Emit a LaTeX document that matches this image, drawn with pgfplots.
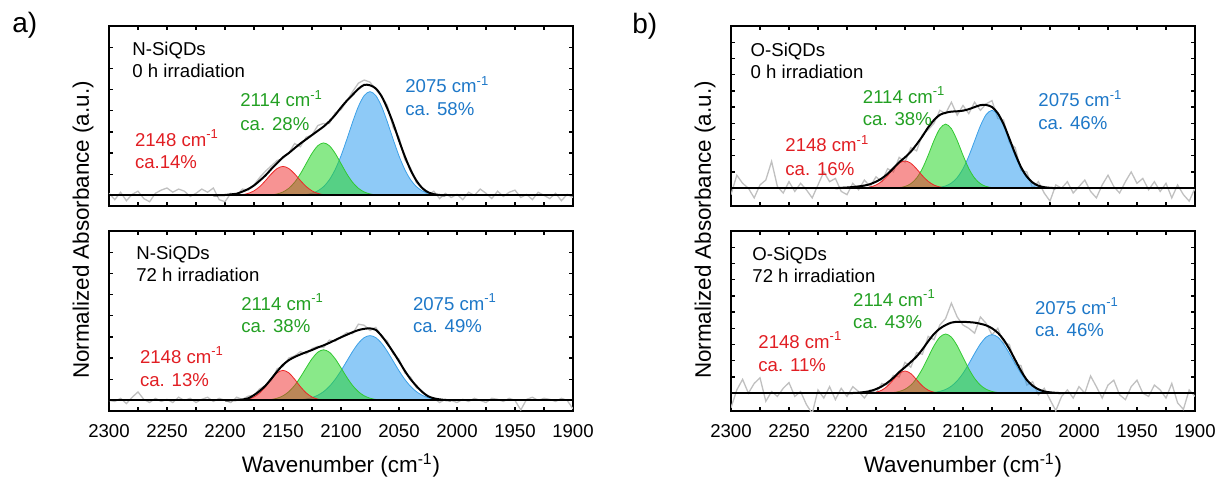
\documentclass[border=0pt]{standalone}
\usepackage{fontspec}
\setmainfont{Liberation Sans}
\usepackage{pgfplots}
\pgfplotsset{compat=1.18}
\definecolor{rfill}{RGB}{240,40,40}
\definecolor{gfill}{RGB}{40,215,40}
\definecolor{bfill}{RGB}{30,150,240}
\definecolor{rline}{RGB}{235,40,40}
\definecolor{gline}{RGB}{50,200,50}
\definecolor{bline}{RGB}{60,160,230}
\definecolor{rtext}{RGB}{225,30,35}
\definecolor{gtext}{RGB}{35,160,35}
\definecolor{btext}{RGB}{30,120,200}
\definecolor{noise}{RGB}{192,192,192}
\pgfplotsset{
  panel/.style={
    scale only axis, width=232pt, height=90pt,
    anchor=north west,
    xmin=1900, xmax=2300, x dir=reverse,
    xtick={1900,1950,...,2300}, minor x tick num=1,
    yticklabels={},
    tick align=inside,
    major tick length=2.2pt, minor tick length=2.2pt,
    axis line style={line width=0.65pt},
    every tick/.style={black, line width=0.65pt},
    /pgf/number format/1000 sep={},
    /pgf/number format/assume math mode=true,
    tick label style={font=\fontsize{9.3}{11}\selectfont},
    xticklabel style={anchor=base, yshift=-13pt},
    scaled x ticks=false,
  },
  pa/.style={panel, ymin=-0.05, ymax=0.8, ytick={0,0.1,0.2,0.3,0.4,0.5,0.6,0.7,0.8}},
  pb/.style={panel, ymin=-0.11, ymax=1.0, ytick={0,0.1,0.2,0.3,0.4,0.5,0.6,0.7,0.8,0.9,1.0}},
  notop/.style={xticklabels={}},
  noisy/.style={noise, line width=0.65pt},
  env/.style={black, line width=1pt, smooth},
  base/.style={black, line width=1pt},
  rc/.style={smooth, draw=rline, line width=0.4pt, fill=rfill, fill opacity=0.5},
  gc/.style={smooth, draw=gline, line width=0.4pt, fill=gfill, fill opacity=0.55},
  bc/.style={smooth, draw=bline, line width=0.4pt, fill=bfill, fill opacity=0.5},
}
\begin{document}
\begin{tikzpicture}
\path[use as bounding box] (0,0) rectangle (607.5pt,-238.5pt);

% ---------------- panel a, top: N-SiQDs 0 h
\begin{axis}[pa, notop, at={(54.5pt,-13pt)}]
\addplot[noisy] table {
x y
2300 0.010
2295 -0.020
2290 0.015
2285 -0.025
2280 0.005
2275 0.020
2270 -0.015
2265 -0.030
2260 0.010
2255 0.025
2250 0.035
2245 0.015
2240 0.030
2235 0.020
2230 -0.005
2225 0.010
2220 0.030
2215 0.015
2210 0.035
2205 -0.020
2200 -0.030
2195 0.010
2190 0.000
2185 0.030
2180 0.025
2175 0.050
2170 0.085
2165 0.115
2160 0.140
2155 0.165
2150 0.175
2145 0.200
2140 0.245
2135 0.230
2130 0.275
2125 0.285
2120 0.330
2115 0.340
2110 0.340
2105 0.390
2100 0.405
2095 0.445
2090 0.490
2085 0.530
2080 0.545
2075 0.535
2070 0.500
2065 0.470
2060 0.425
2055 0.320
2050 0.275
2045 0.170
2040 0.130
2035 0.060
2030 0.035
2025 0.000
2020 0.020
2015 -0.015
2010 0.010
2005 -0.010
2000 0.005
1995 -0.020
1990 0.015
1985 0.000
1980 0.030
1975 0.010
1970 -0.015
1965 0.020
1960 -0.005
1955 0.015
1950 0.025
1945 -0.010
1940 0.005
1935 -0.020
1930 0.015
1925 0.000
1920 -0.015
1915 0.010
1910 -0.025
1905 0.005
1900 -0.010
};
\addplot[bc] table {
x y
2145 0
2140 0.0007
2135 0.0019
2130 0.0046
2125 0.0103
2120 0.0215
2115 0.0415
2110 0.0740
2105 0.1222
2100 0.1868
2095 0.2643
2090 0.3462
2085 0.4199
2080 0.4714
2075 0.4900
2070 0.4714
2065 0.4199
2060 0.3462
2055 0.2643
2050 0.1868
2045 0.1222
2040 0.0740
2035 0.0415
2030 0.0215
2025 0.0103
2020 0.0046
2015 0.0019
2010 0.0007
2005 0
} \closedcycle;
\addplot[gc] table {
x y
2170 0
2165 0.0010
2160 0.0028
2155 0.0071
2150 0.0163
2145 0.0336
2140 0.0619
2135 0.1020
2130 0.1504
2125 0.1986
2120 0.2346
2115 0.2480
2110 0.2346
2105 0.1986
2100 0.1504
2095 0.1020
2090 0.0619
2085 0.0336
2080 0.0163
2075 0.0071
2070 0.0028
2065 0.0010
2060 0
} \closedcycle;
\addplot[rc] table {
x y
2205 0
2200 0.0001
2195 0.0003
2190 0.0012
2185 0.0037
2180 0.0096
2175 0.0216
2170 0.0419
2165 0.0704
2160 0.1019
2155 0.1272
2150 0.1370
2145 0.1272
2140 0.1019
2135 0.0704
2130 0.0419
2125 0.0216
2120 0.0096
2115 0.0037
2110 0.0012
2105 0.0003
2100 0.0001
2095 0
} \closedcycle;
\addplot[base] coordinates {(2300,0) (1900,0)};
\addplot[env] table {
x y
2210 0
2205 0.001
2200 0.002
2195 0.005
2190 0.008
2185 0.018
2180 0.030
2175 0.047
2170 0.070
2165 0.095
2160 0.125
2155 0.153
2150 0.180
2145 0.200
2140 0.223
2135 0.245
2130 0.265
2125 0.285
2120 0.305
2115 0.325
2110 0.350
2105 0.380
2100 0.415
2095 0.447
2090 0.475
2085 0.503
2080 0.522
2075 0.520
2070 0.505
2065 0.468
2060 0.410
2055 0.340
2050 0.260
2045 0.185
2040 0.120
2035 0.070
2030 0.035
2025 0.015
2020 0.006
2015 0.002
2010 0
};
\end{axis}

% ---------------- panel a, bottom: N-SiQDs 72 h
\begin{axis}[pa, at={(54.5pt,-115.5pt)}]
\addplot[noisy] table {
x y
2300 0.000
2295 -0.005
2290 0.010
2285 -0.015
2280 0.015
2275 0.040
2270 0.005
2265 -0.010
2260 0.010
2255 -0.005
2250 0.005
2245 -0.010
2240 0.015
2235 0.000
2230 0.010
2225 -0.010
2220 0.005
2215 0.015
2210 -0.005
2205 0.010
2200 0.000
2195 -0.010
2190 0.015
2185 0.005
2180 0.020
2175 0.025
2170 0.055
2165 0.070
2160 0.095
2155 0.150
2150 0.160
2145 0.200
2140 0.210
2135 0.230
2130 0.220
2125 0.245
2120 0.255
2115 0.250
2110 0.285
2105 0.280
2100 0.300
2095 0.320
2090 0.315
2085 0.360
2080 0.355
2075 0.330
2070 0.345
2065 0.300
2060 0.280
2055 0.220
2050 0.195
2045 0.130
2040 0.110
2035 0.060
2030 0.045
2025 0.015
2020 0.010
2015 -0.010
2010 0.005
2005 0.000
2000 -0.010
1995 0.005
1990 -0.005
1985 0.010
1980 0.000
1975 -0.010
1970 0.010
1965 0.005
1960 -0.005
1955 0.010
1950 0.000
1945 -0.045
1940 0.005
1935 0.015
1930 0.000
1925 0.010
1920 0.005
1915 -0.005
1910 0.010
1905 0.000
1900 -0.040
};
\addplot[bc] table {
x y
2150 0
2145 0.0007
2140 0.0016
2135 0.0034
2130 0.0070
2125 0.0134
2120 0.0244
2115 0.0414
2110 0.0662
2105 0.0994
2100 0.1401
2095 0.1856
2090 0.2310
2085 0.2700
2080 0.2966
2075 0.3060
2070 0.2966
2065 0.2700
2060 0.2310
2055 0.1856
2050 0.1401
2045 0.0994
2040 0.0662
2035 0.0414
2030 0.0244
2025 0.0134
2020 0.0070
2015 0.0034
2010 0.0016
2005 0.0007
2000 0
} \closedcycle;
\addplot[gc] table {
x y
2175 0
2170 0.0006
2165 0.0018
2160 0.0046
2155 0.0105
2150 0.0218
2145 0.0412
2140 0.0705
2135 0.1094
2130 0.1540
2125 0.1966
2120 0.2276
2115 0.2390
2110 0.2276
2105 0.1966
2100 0.1540
2095 0.1094
2090 0.0705
2085 0.0412
2080 0.0218
2075 0.0105
2070 0.0046
2065 0.0018
2060 0.0006
2055 0
} \closedcycle;
\addplot[rc] table {
x y
2195 0
2190 0.0005
2185 0.0020
2180 0.0062
2175 0.0162
2170 0.0354
2165 0.0650
2160 0.1003
2155 0.1302
2150 0.1420
2145 0.1302
2140 0.1003
2135 0.0650
2130 0.0354
2125 0.0162
2120 0.0062
2115 0.0020
2110 0.0005
2105 0
} \closedcycle;
\addplot[base] coordinates {(2300,0) (1900,0)};
\addplot[env] table {
x y
2200 0
2195 0.001
2190 0.002
2185 0.004
2180 0.010
2175 0.025
2170 0.045
2165 0.070
2160 0.103
2155 0.137
2150 0.168
2145 0.190
2140 0.205
2135 0.217
2130 0.228
2125 0.238
2120 0.250
2115 0.260
2110 0.272
2105 0.285
2100 0.298
2095 0.310
2090 0.322
2085 0.332
2080 0.338
2075 0.340
2070 0.333
2065 0.305
2060 0.268
2055 0.228
2050 0.185
2045 0.140
2040 0.100
2035 0.068
2030 0.040
2025 0.020
2020 0.010
2015 0.005
2010 0.002
2005 0
};
\end{axis}

% ---------------- panel b, top: O-SiQDs 0 h
\begin{axis}[pb, notop, at={(365.5pt,-13pt)}]
\addplot[noisy] table {
x y
2300 -0.040
2295 0.080
2290 0.030
2285 0.000
2280 -0.060
2275 0.020
2270 0.050
2265 0.165
2260 0.010
2255 -0.030
2250 0.040
2245 -0.020
2240 0.030
2235 -0.010
2230 -0.060
2225 0.020
2220 0.100
2215 0.040
2210 0.060
2205 -0.020
2200 -0.040
2195 0.030
2190 -0.010
2185 0.050
2180 0.010
2175 0.070
2170 0.040
2165 0.120
2160 0.100
2155 0.190
2150 0.160
2145 0.250
2140 0.230
2135 0.330
2130 0.360
2125 0.400
2120 0.480
2115 0.460
2110 0.530
2105 0.450
2100 0.510
2095 0.460
2090 0.530
2085 0.480
2080 0.520
2075 0.540
2070 0.430
2065 0.420
2060 0.280
2055 0.250
2050 0.110
2045 0.100
2040 0.000
2035 0.040
2030 -0.030
2025 -0.080
2020 0.020
2015 0.000
2010 0.040
2005 -0.030
2000 0.010
1995 0.050
1990 -0.020
1985 -0.060
1980 0.020
1975 0.080
1970 0.010
1965 -0.030
1960 0.040
1955 0.100
1950 0.030
1945 0.060
1940 -0.010
1935 0.040
1930 -0.020
1925 0.030
1920 -0.060
1915 0.020
1910 -0.040
1905 -0.080
1900 0.000
};
\addplot[bc] table {
x y
2135 0
2130 0.0006
2125 0.0019
2120 0.0053
2115 0.0137
2110 0.0315
2105 0.0649
2100 0.1197
2095 0.1973
2090 0.2911
2085 0.3843
2080 0.4541
2075 0.4800
2070 0.4541
2065 0.3843
2060 0.2911
2055 0.1973
2050 0.1197
2045 0.0649
2040 0.0315
2035 0.0137
2030 0.0053
2025 0.0019
2020 0.0006
2015 0
} \closedcycle;
\addplot[gc] table {
x y
2165 0
2160 0.0010
2155 0.0035
2150 0.0105
2145 0.0276
2140 0.0622
2135 0.1209
2130 0.2030
2125 0.2938
2120 0.3668
2115 0.3950
2110 0.3668
2105 0.2938
2100 0.2030
2095 0.1209
2090 0.0622
2085 0.0276
2080 0.0105
2075 0.0035
2070 0.0010
2065 0
} \closedcycle;
\addplot[rc] table {
x y
2195 0
2190 0.0006
2185 0.0024
2180 0.0074
2175 0.0192
2170 0.0419
2165 0.0769
2160 0.1187
2155 0.1540
2150 0.1680
2145 0.1540
2140 0.1187
2135 0.0769
2130 0.0419
2125 0.0192
2120 0.0074
2115 0.0024
2110 0.0006
2105 0
} \closedcycle;
\addplot[base] coordinates {(2300,0) (1900,0)};
\addplot[env] table {
x y
2210 0
2205 0.002
2200 0.004
2195 0.007
2190 0.011
2185 0.016
2180 0.025
2175 0.040
2170 0.060
2165 0.088
2160 0.123
2155 0.160
2150 0.190
2145 0.225
2140 0.270
2135 0.320
2130 0.375
2125 0.420
2120 0.452
2115 0.465
2110 0.472
2105 0.474
2100 0.478
2095 0.487
2090 0.500
2085 0.512
2080 0.513
2075 0.500
2070 0.462
2065 0.395
2060 0.305
2055 0.212
2050 0.130
2045 0.072
2040 0.035
2035 0.015
2030 0.006
2025 0.002
2020 0
};
\end{axis}

% ---------------- panel b, bottom: O-SiQDs 72 h
\begin{axis}[pb, at={(365.5pt,-115.5pt)}]
\addplot[noisy] table {
x y
2300 -0.090
2295 0.020
2290 0.085
2285 0.000
2280 0.060
2275 0.095
2270 -0.050
2265 0.010
2260 -0.020
2255 0.030
2250 0.065
2245 -0.020
2240 0.010
2235 -0.070
2230 -0.125
2225 0.020
2220 -0.030
2215 0.040
2210 -0.040
2205 0.030
2200 -0.020
2195 0.040
2190 0.010
2185 -0.030
2180 0.020
2175 0.000
2170 0.060
2165 0.050
2160 0.110
2155 0.100
2150 0.190
2145 0.160
2140 0.250
2135 0.240
2130 0.350
2125 0.330
2120 0.420
2115 0.460
2110 0.555
2105 0.470
2100 0.420
2095 0.400
2090 0.370
2085 0.470
2080 0.430
2075 0.360
2070 0.400
2065 0.310
2060 0.300
2055 0.180
2050 0.170
2045 0.050
2040 0.070
2035 -0.010
2030 0.030
2025 -0.040
2020 -0.108
2015 -0.020
2010 0.020
2005 -0.030
2000 0.040
1995 0.000
1990 0.106
1985 0.040
1980 -0.030
1975 0.050
1970 0.080
1965 -0.010
1960 -0.040
1955 0.040
1950 0.080
1945 0.000
1940 -0.020
1935 0.050
1930 0.020
1925 -0.030
1920 0.060
1915 -0.060
1910 -0.100
1905 0.020
1900 -0.020
};
\addplot[bc] table {
x y
2140 0
2135 0.0007
2130 0.0019
2125 0.0048
2120 0.0109
2115 0.0227
2110 0.0434
2105 0.0761
2100 0.1224
2095 0.1807
2090 0.2446
2085 0.3036
2080 0.3457
2075 0.3610
2070 0.3457
2065 0.3036
2060 0.2446
2055 0.1807
2050 0.1224
2045 0.0761
2040 0.0434
2035 0.0227
2030 0.0109
2025 0.0048
2020 0.0019
2015 0.0007
2010 0
} \closedcycle;
\addplot[gc] table {
x y
2170 0
2165 0.0014
2160 0.0041
2155 0.0104
2150 0.0240
2145 0.0494
2140 0.0910
2135 0.1501
2130 0.2214
2125 0.2923
2120 0.3453
2115 0.3650
2110 0.3453
2105 0.2923
2100 0.2214
2095 0.1501
2090 0.0910
2085 0.0494
2080 0.0240
2075 0.0104
2070 0.0041
2065 0.0014
2060 0
} \closedcycle;
\addplot[rc] table {
x y
2185 0
2180 0.0015
2175 0.0060
2170 0.0185
2165 0.0445
2160 0.0831
2155 0.1209
2150 0.1370
2145 0.1209
2140 0.0831
2135 0.0445
2130 0.0185
2125 0.0060
2120 0.0015
2115 0
} \closedcycle;
\addplot[base] coordinates {(2300,0) (1900,0)};
\addplot[env] table {
x y
2200 0
2195 0.001
2190 0.003
2185 0.007
2180 0.013
2175 0.025
2170 0.042
2165 0.065
2160 0.095
2155 0.130
2150 0.160
2145 0.192
2140 0.226
2135 0.270
2130 0.320
2125 0.365
2120 0.398
2115 0.420
2110 0.435
2105 0.440
2100 0.440
2095 0.438
2090 0.435
2085 0.428
2080 0.418
2075 0.400
2070 0.372
2065 0.330
2060 0.272
2055 0.205
2050 0.138
2045 0.082
2040 0.046
2035 0.024
2030 0.011
2025 0.005
2020 0.002
2015 0
};
\end{axis}

% ---------------- text (pixel coordinates of the reference)
\begin{scope}[x=0.5pt, y=-0.5pt]
\tikzset{lab/.style={anchor=base west, inner sep=0pt, font=\fontsize{9.3}{11}\selectfont}}
\node[anchor=base west, inner sep=0pt, font=\fontsize{14}{16}\selectfont] at (12,32) {a)};
\node[anchor=base west, inner sep=0pt, font=\fontsize{14}{16}\selectfont] at (632,33) {b)};
\node[rotate=90, font=\fontsize{11.2}{13}\selectfont] at (83,230) {Normalized Absorbance (a.u.)};
\node[rotate=90, font=\fontsize{11.2}{13}\selectfont] at (705,230) {Normalized Absorbance (a.u.)};
\node[font=\fontsize{11.2}{13}\selectfont] at (341,465) {Wavenumber (cm\textsuperscript{-1})};
\node[font=\fontsize{11.2}{13}\selectfont] at (963,465) {Wavenumber (cm\textsuperscript{-1})};
% panel a top
\node[lab] at (132,55) {N-SiQDs};
\node[lab] at (132,77.4) {0 h irradiation};
\node[lab, text=rtext] at (134.6,146) {2148 cm\textsuperscript{-1}};
\node[lab, text=rtext] at (134.6,168.4) {ca.14\%};
\node[lab, text=gtext] at (240,106.7) {2114 cm\textsuperscript{-1}};
\node[lab, text=gtext] at (240,130) {ca. 28\%};
\node[lab, text=btext] at (405,92.7) {2075 cm\textsuperscript{-1}};
\node[lab, text=btext] at (405,115) {ca. 58\%};
% panel a bottom
\node[lab] at (136,259.4) {N-SiQDs};
\node[lab] at (136,281.7) {72 h irradiation};
\node[lab, text=gtext] at (241,310) {2114 cm\textsuperscript{-1}};
\node[lab, text=gtext] at (241,332.7) {ca. 38\%};
\node[lab, text=rtext] at (139.6,363.4) {2148 cm\textsuperscript{-1}};
\node[lab, text=rtext] at (139.6,386) {ca. 13\%};
\node[lab, text=btext] at (412.6,310) {2075 cm\textsuperscript{-1}};
\node[lab, text=btext] at (412.6,332.7) {ca. 49\%};
% panel b top
\node[lab] at (750.3,56) {O-SiQDs};
\node[lab] at (750.3,78.4) {0 h irradiation};
\node[lab, text=rtext] at (785,151.7) {2148 cm\textsuperscript{-1}};
\node[lab, text=rtext] at (785,175) {ca. 16\%};
\node[lab, text=gtext] at (862.5,103.4) {2114 cm\textsuperscript{-1}};
\node[lab, text=gtext] at (862.5,125.7) {ca. 38\%};
\node[lab, text=btext] at (1038,106.7) {2075 cm\textsuperscript{-1}};
\node[lab, text=btext] at (1038,129.4) {ca. 46\%};
% panel b bottom
\node[lab] at (752,260) {O-SiQDs};
\node[lab] at (752,282.7) {72 h irradiation};
\node[lab, text=gtext] at (852.8,306) {2114 cm\textsuperscript{-1}};
\node[lab, text=gtext] at (852.8,328.4) {ca. 43\%};
\node[lab, text=rtext] at (758,348.4) {2148 cm\textsuperscript{-1}};
\node[lab, text=rtext] at (758,371.7) {ca. 11\%};
\node[lab, text=btext] at (1034.6,314) {2075 cm\textsuperscript{-1}};
\node[lab, text=btext] at (1034.6,336.4) {ca. 46\%};
\end{scope}
\end{tikzpicture}
\end{document}
